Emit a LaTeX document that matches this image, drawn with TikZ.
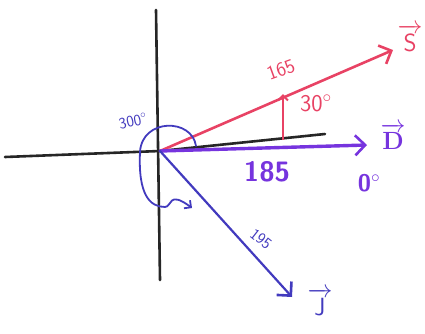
\documentclass[tikz,border=0pt]{standalone}
\usepackage{amsmath}
\usetikzlibrary{arrows.meta,positioning}
\definecolor{sred}{RGB}{232,66,100}
\definecolor{dpurple}{RGB}{118,52,222}
\definecolor{jblue}{RGB}{66,58,190}
\newcommand{\fsz}[1]{\fontsize{#1}{#1}\selectfont\sffamily}

\begin{document}
\begin{tikzpicture}[x=1pt,y=-1pt,
    axis/.style={line width=2.6pt, black!85, line cap=round},
    vec/.style={line width=2.6pt, line cap=round,
        -{Straight Barb[length=10pt,width=20pt,line width=2.6pt]}},
    lbl/.style={inner sep=1pt}
]
    \useasboundingbox (0,0) rectangle (425,333);

    % axes
    \coordinate (O) at (160,151);
    \coordinate (xl) at (5,157);
    \coordinate (xr) at (325,134);
    \coordinate (yt) at (156,10);
    \coordinate (yb) at (160,280);
    \draw[axis] (xl) -- (O) -- (xr);
    \draw[axis] (yt) -- (yb);

    % vectors
    \coordinate (stip) at (393,50);
    \coordinate (dtip) at (367,145);
    \coordinate (jtip) at (292,297);
    \draw[vec, sred] (O) -- (stip);
    \draw[vec, dpurple, line width=3.4pt] (O) -- (dtip);
    \draw[vec, jblue, line width=2.2pt] (O) -- (jtip);

    \node[lbl, sred, font=\fsz{34}] (S) at (410,38) {$\overrightarrow{\mathsf{S}}$};
    \node[lbl, dpurple, font=\fsz{34}] (D) at (393,136) {$\overrightarrow{\mathbf{D}}$};
    \node[lbl, jblue, font=\fsz{30}] (J) at (320,302) {$\overrightarrow{\mathsf{J}}$};

    \node[lbl, sred, font=\fsz{20}, rotate=20] (s165) at (281,70) {165};
    \node[lbl, dpurple, font=\fsz{28}\bfseries] (d185) at (267,172) {185};
    \node[lbl, jblue, font=\fsz{16}, rotate=-38] (j195) at (261,239) {195};
    \node[lbl, dpurple, font=\fsz{24}\bfseries] (d0) at (369,183) {0$^{\circ}$};

    % angle between S and D
    \coordinate (a30) at (283,140);
    \coordinate (b30) at (283,94);
    \draw[sred, line width=2pt, -{Straight Barb[length=5pt,width=10pt]}] (a30) -- (b30);
    \node[lbl, sred, font=\fsz{24}] (s30) at (316,103) {30$^{\circ}$};

    % 300 degree turn for J
    \coordinate (l0) at (196,146);
    \coordinate (l1) at (140,152);
    \coordinate (l2) at (192,208);
    \draw[jblue, line width=1.8pt, line cap=round, -{Straight Barb[length=5pt,width=10pt]}]
        (l0) .. controls (192,118) and (142,118) .. (l1)
        .. controls (138,195) and (150,207) .. (165,207)
        .. controls (172,207) and (168,190) .. (l2);
    \node[lbl, jblue, font=\fsz{16}, rotate=12] (t300) at (133,121) {300$^{\circ}$};
\end{tikzpicture}
\end{document}
